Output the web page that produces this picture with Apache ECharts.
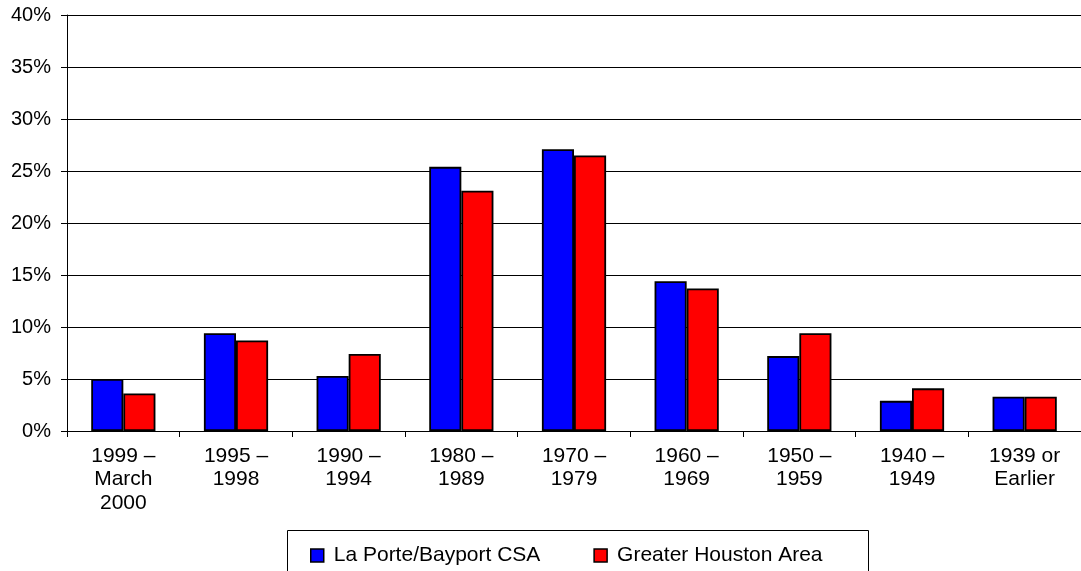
<!DOCTYPE html>
<html>
<head>
<meta charset="utf-8">
<script src="https://cdn.jsdelivr.net/npm/echarts@6/dist/echarts.min.js"></script>
<style>
html,body{margin:0;padding:0;background:#fff;}
#chart{width:1081px;height:571px;}
</style>
</head>
<body>
<div id="chart"></div>
<script>
var categories = ["1999 –\nMarch\n2000", "1995 –\n1998", "1990 –\n1994", "1980 –\n1989", "1970 –\n1979", "1960 –\n1969", "1950 –\n1959", "1940 –\n1949", "1939 or\nEarlier"];
var laPorte = [5.0, 9.4, 5.3, 25.4, 27.1, 14.4, 7.2, 2.9, 3.3];
var houston = [3.6, 8.7, 7.4, 23.1, 26.5, 13.7, 9.4, 4.1, 3.3];
var seriesNames = ["La Porte/Bayport CSA", "Greater Houston Area"];
var yTicks = {min: 0, max: 40, interval: 5};

var FONT = "Arial, 'Liberation Sans', sans-serif";
var chart = echarts.init(document.getElementById('chart'), null, {renderer: 'canvas'});
chart.setOption({
  animation: false,
  backgroundColor: '#fff',
  grid: {left: 67, right: 0, top: 15, bottom: 140, containLabel: false},
  graphic: [{
    type: 'rect',
    shape: {x: 287.5, y: 530.5, width: 581, height: 80},
    style: {fill: 'none', stroke: '#000', lineWidth: 1},
    silent: true
  }],
  legend: {
    left: 305,
    top: 540,
    itemWidth: 13,
    itemHeight: 13,
    itemGap: 53,
    icon: 'rect',
    textStyle: {fontFamily: FONT, fontSize: 21, color: '#000', padding: [0, 0, 0, 5]},
    itemStyle: {borderColor: '#000', borderWidth: 1.5},
    data: seriesNames
  },
  xAxis: {
    type: 'category',
    data: categories,
    boundaryGap: true,
    axisLine: {show: true, lineStyle: {color: '#000', width: 1}},
    axisTick: {show: true, length: 6, lineStyle: {color: '#000'}},
    axisLabel: {fontFamily: FONT, fontSize: 21, color: '#000', margin: 13, lineHeight: 23.5, interval: 0}
  },
  yAxis: {
    type: 'value',
    min: yTicks.min,
    max: yTicks.max,
    interval: yTicks.interval,
    axisLine: {show: true, lineStyle: {color: '#000', width: 1}},
    axisTick: {show: true, length: 6, lineStyle: {color: '#000'}},
    axisLabel: {fontFamily: FONT, fontSize: 20, color: '#000', margin: 16, formatter: '{value}%'},
    splitLine: {show: true, lineStyle: {color: '#000', width: 1}}
  },
  series: [
    {
      name: seriesNames[0], type: 'bar', data: laPorte, barGap: '0%', barCategoryGap: '43%',
      itemStyle: {color: '#0000FF', borderColor: '#000', borderWidth: 1.8}
    },
    {
      name: seriesNames[1], type: 'bar', data: houston, barGap: '0%', barCategoryGap: '43%',
      itemStyle: {color: '#FF0000', borderColor: '#000', borderWidth: 1.8}
    }
  ]
});
</script>
</body>
</html>
